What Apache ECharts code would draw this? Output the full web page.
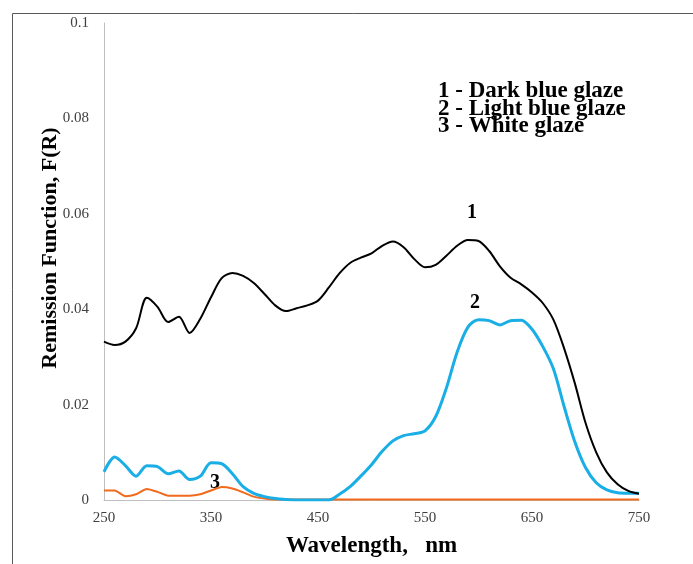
<!DOCTYPE html>
<html lang="en">
<head>
    <meta charset="utf-8">
    <title>Remission Function</title>
    <script src="https://cdn.jsdelivr.net/npm/echarts@6/dist/echarts.min.js"></script>
    <style>
        html, body { margin: 0; padding: 0; background: #fff; }
    </style>
</head>
<body>

<div id="main" style="width: 693px;height:564px;"></div>

<script>
    // wavelength, nm (shared by all three curves)
    var wavelengths = [250, 260, 270, 280, 290, 300, 310, 320, 330, 340,
        350, 360, 370, 380, 390, 400, 410, 420, 430, 440,
        450, 460, 470, 480, 490, 500, 510, 520, 530, 540,
        550, 560, 570, 580, 590, 600, 610, 620, 630, 640,
        650, 660, 670, 680, 690, 700, 710, 720, 730, 740, 750];

    // 1 - dark blue glaze
    var darkBlue = [0.0332, 0.0325, 0.0332, 0.0360, 0.0424, 0.0405, 0.0373, 0.0384, 0.0350, 0.0380,
        0.0425, 0.0465, 0.0476, 0.0470, 0.0455, 0.0432, 0.0408, 0.0396, 0.0402, 0.0408,
        0.0418, 0.0445, 0.0475, 0.0497, 0.0508, 0.0517, 0.0533, 0.0542, 0.0530, 0.0505,
        0.0488, 0.0493, 0.0512, 0.0533, 0.0545, 0.0543, 0.0522, 0.0490, 0.0466, 0.0452,
        0.0435, 0.0413, 0.0378, 0.0318, 0.0245, 0.0162, 0.0100, 0.0058, 0.0033, 0.0019, 0.0013];

    // 2 - light blue glaze
    var lightBlue = [0.0059, 0.0090, 0.0072, 0.0050, 0.0072, 0.0070, 0.0055, 0.0061, 0.0043, 0.0050,
        0.0078, 0.0076, 0.0055, 0.0028, 0.0014, 0.0007, 0.0003, 0.0001, 0.0000, 0.0000,
        0.0000, 0.0000, 0.0012, 0.0028, 0.0050, 0.0074, 0.0102, 0.0124, 0.0135, 0.0139,
        0.0145, 0.0175, 0.0235, 0.0310, 0.0362, 0.0378, 0.0376, 0.0367, 0.0376, 0.0377,
        0.0358, 0.0322, 0.0275, 0.0196, 0.0122, 0.0068, 0.0036, 0.0021, 0.0015, 0.0014, 0.0014];

    // 3 - white glaze
    var white = [0.0020, 0.0020, 0.0008, 0.0012, 0.0023, 0.0017, 0.0009, 0.0009, 0.0009, 0.0012,
        0.0020, 0.0027, 0.0024, 0.0016, 0.0007, 0.0003, 0.0001, 0.0001, 0.0001, 0.0001,
        0.0001, 0.0001, 0.0001, 0.0001, 0.0001, 0.0001, 0.0001, 0.0001, 0.0001, 0.0001,
        0.0001, 0.0001, 0.0001, 0.0001, 0.0001, 0.0001, 0.0001, 0.0001, 0.0001, 0.0001,
        0.0001, 0.0001, 0.0001, 0.0001, 0.0001, 0.0001, 0.0001, 0.0001, 0.0001, 0.0001, 0.0001];

    var legendLines = ['1 - Dark blue glaze', '2 - Light blue glaze', '3 - White glaze'];

    function pairs(ys) {
        return wavelengths.map(function (x, i) { return [x, ys[i]]; });
    }

    var serif = 'Liberation Serif';
    var boldText = 'bold 23px "Liberation Serif"';
    var myChart = echarts.init(document.getElementById('main'));

    var option = {
        animation: false,
        grid: {left: 104, top: 23, right: 54, bottom: 64},
        xAxis: {
            type: 'value',
            min: 250, max: 750, interval: 100,
            name: 'Wavelength,   nm',
            nameLocation: 'middle',
            nameGap: 35,
            nameTextStyle: {fontFamily: serif, fontSize: 23, fontWeight: 'bold', color: '#000'},
            axisLine: {lineStyle: {color: '#bfbfbf', width: 1}},
            axisTick: {show: false},
            splitLine: {show: false},
            axisLabel: {fontFamily: serif, fontSize: 15, color: '#404040', margin: 11}
        },
        yAxis: {
            type: 'value',
            min: 0, max: 0.1, interval: 0.02,
            axisLine: {show: true, lineStyle: {color: '#bfbfbf', width: 1}},
            axisTick: {show: false},
            splitLine: {show: false},
            axisLabel: {fontFamily: serif, fontSize: 15, color: '#404040', margin: 15}
        },
        series: [
            {
                name: '1', type: 'line', data: pairs(darkBlue), showSymbol: false, smooth: 0.3,
                lineStyle: {color: '#000000', width: 2}, z: 3
            },
            {
                name: '2', type: 'line', data: pairs(lightBlue), showSymbol: false, smooth: 0.3,
                lineStyle: {color: '#19aee6', width: 3}, z: 2
            },
            {
                name: '3', type: 'line', data: pairs(white), showSymbol: false, smooth: 0.2,
                lineStyle: {color: '#f26a1c', width: 2}, z: 1
            }
        ],
        graphic: [
            // outer frame
            {type: 'rect', shape: {x: 12.5, y: 13.5, width: 720, height: 600},
                style: {fill: null, stroke: '#595959', lineWidth: 1}, silent: true},
            // y axis title
            {type: 'text', x: 50, y: 248, rotation: Math.PI / 2,
                style: {text: 'Remission Function, F(R)', font: 'bold 22px "Liberation Serif"', fill: '#000',
                    align: 'center', verticalAlign: 'middle'}},
            {type: 'text', left: 438, top: 80, style: {text: legendLines[0], font: boldText, fill: '#000'}},
            {type: 'text', left: 438, top: 98, style: {text: legendLines[1], font: boldText, fill: '#000'}},
            {type: 'text', left: 438, top: 115, style: {text: legendLines[2], font: boldText, fill: '#000'}},
            {type: 'text', left: 467, top: 203, style: {text: '1', font: 'bold 20px "Liberation Serif"', fill: '#000'}},
            {type: 'text', left: 470, top: 293, style: {text: '2', font: 'bold 20px "Liberation Serif"', fill: '#000'}},
            {type: 'text', left: 210, top: 473, style: {text: '3', font: 'bold 20px "Liberation Serif"', fill: '#000'}}
        ]
    };

    myChart.setOption(option);
</script>
</body>
</html>
